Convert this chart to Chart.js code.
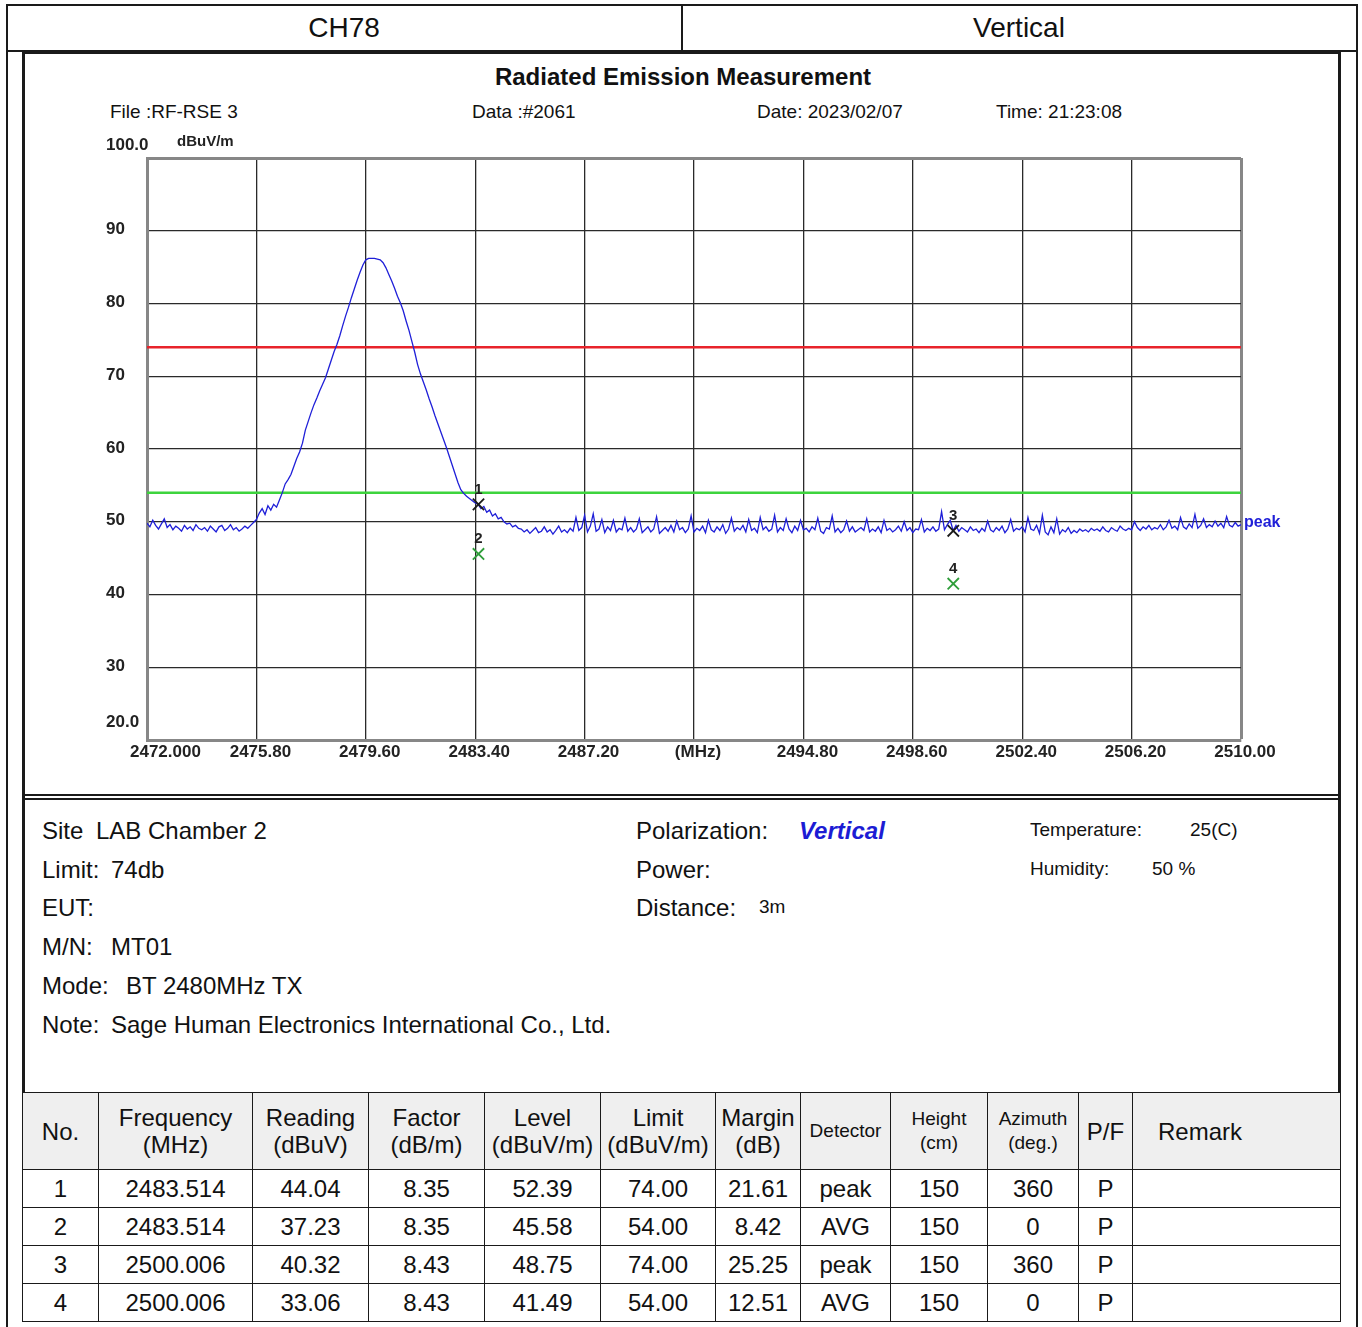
<!DOCTYPE html>
<html>
<head>
<meta charset="utf-8">
<script src="https://cdn.jsdelivr.net/npm/chart.js@4.4.0/dist/chart.umd.min.js"></script>
<style>
  body { margin: 0; background: #fff; font-family: "Liberation Sans", Arial, sans-serif; color: #111; }
  #page { position: relative; width: 1362px; height: 1327px; overflow: hidden; }
  .ln { position: absolute; background: #1a1a1a; }
  .t { position: absolute; line-height: 1; white-space: pre; transform: translateY(-50%); }
  .c { transform: translate(-50%, -50%); }
  #chart { position: absolute; left: 0; top: 0; }
  table { position: absolute; left: 22px; top: 1092px; width: 1318px; border-collapse: collapse; table-layout: fixed; }
  td, th { border: 1.5px solid #1a1a1a; text-align: center; font-weight: normal; font-size: 24px; padding: 0; }
  th { background: #efefef; height: 76px; line-height: 27px; }
  th.sm { font-size: 19px; line-height: 24px; }
  td { height: 37px; }
</style>
</head>
<body>
<div id="page">
  <!-- header row and outer frame -->
  <div class="ln" style="left:6px;top:4px;width:1352px;height:1.5px"></div>
  <div class="ln" style="left:6px;top:50px;width:1352px;height:1.5px"></div>
  <div class="ln" style="left:6px;top:4px;width:1.5px;height:1323px"></div>
  <div class="ln" style="left:1356px;top:4px;width:1.5px;height:1323px"></div>
  <div class="ln" style="left:681px;top:4px;width:1.5px;height:47px"></div>
  <div class="t c" style="left:344px;top:28px;font-size:28px">CH78</div>
  <div class="t c" style="left:1019px;top:28px;font-size:28px">Vertical</div>

  <!-- chart box -->
  <div class="ln" style="left:22px;top:52px;width:1319px;height:2px"></div>
  <div class="ln" style="left:22px;top:52px;width:2.5px;height:1040px"></div>
  <div class="ln" style="left:1338px;top:52px;width:2.5px;height:1040px"></div>
  <div class="ln" style="left:22px;top:794px;width:1319px;height:1.5px"></div>
  <div class="ln" style="left:22px;top:798px;width:1319px;height:2px"></div>

  <div class="t c" style="left:683px;top:77px;font-size:24px;font-weight:bold">Radiated Emission Measurement</div>
  <div class="t" style="left:110px;top:111px;font-size:19px">File :RF-RSE 3</div>
  <div class="t" style="left:472px;top:111px;font-size:19px">Data :#2061</div>
  <div class="t" style="left:757px;top:111px;font-size:19px">Date: 2023/02/07</div>
  <div class="t" style="left:996px;top:111px;font-size:19px">Time: 21:23:08</div>

  <canvas id="chart" width="1362" height="800"></canvas>

  <!-- info box -->
  <div class="t" style="left:42px;top:831px;font-size:24px">Site</div>
  <div class="t" style="left:96px;top:831px;font-size:24px">LAB Chamber 2</div>
  <div class="t" style="left:42px;top:870px;font-size:24px">Limit:</div>
  <div class="t" style="left:111px;top:870px;font-size:24px">74db</div>
  <div class="t" style="left:42px;top:908px;font-size:24px">EUT:</div>
  <div class="t" style="left:42px;top:947px;font-size:24px">M/N:</div>
  <div class="t" style="left:111px;top:947px;font-size:24px">MT01</div>
  <div class="t" style="left:42px;top:986px;font-size:24px">Mode:</div>
  <div class="t" style="left:126px;top:986px;font-size:24px">BT 2480MHz TX</div>
  <div class="t" style="left:42px;top:1025px;font-size:24px">Note:</div>
  <div class="t" style="left:111px;top:1025px;font-size:24px">Sage Human Electronics International Co., Ltd.</div>

  <div class="t" style="left:636px;top:831px;font-size:24px">Polarization:</div>
  <div class="t" style="left:799px;top:831px;font-size:24px;font-weight:bold;font-style:italic;color:#1c1cd4">Vertical</div>
  <div class="t" style="left:636px;top:870px;font-size:24px">Power:</div>
  <div class="t" style="left:636px;top:908px;font-size:24px">Distance:</div>
  <div class="t" style="left:759px;top:906px;font-size:19px">3m</div>
  <div class="t" style="left:1030px;top:829px;font-size:19px">Temperature:</div>
  <div class="t" style="left:1190px;top:829px;font-size:19px">25(C)</div>
  <div class="t" style="left:1030px;top:868px;font-size:19px">Humidity:</div>
  <div class="t" style="left:1152px;top:868px;font-size:19px">50 %</div>

  <table id="result">
    <colgroup>
      <col style="width:76px"><col style="width:154px"><col style="width:116px"><col style="width:116px">
      <col style="width:116px"><col style="width:115px"><col style="width:85px"><col style="width:90px">
      <col style="width:97px"><col style="width:91px"><col style="width:54px"><col style="width:208px">
    </colgroup>
    <thead>
      <tr>
        <th>No.</th><th>Frequency<br>(MHz)</th><th>Reading<br>(dBuV)</th><th>Factor<br>(dB/m)</th>
        <th>Level<br>(dBuV/m)</th><th>Limit<br>(dBuV/m)</th><th>Margin<br>(dB)</th><th class="sm">Detector</th>
        <th class="sm">Height<br>(cm)</th><th class="sm">Azimuth<br>(deg.)</th><th>P/F</th>
        <th style="text-align:left;padding-left:25px">Remark</th>
      </tr>
    </thead>
    <tbody></tbody>
  </table>
</div>

<script>
// sweep: 2472.0 .. 2510.0 MHz, one reading every 0.1 MHz (dBuV/m)
const freqStart = 2472;
const freqStep = 0.1;
const traceLevels = [
  49.8, 49.3, 50.2, 49.5, 49.0, 49.7, 50.4, 49.2, 49.6, 48.9,
  49.4, 49.1, 48.7, 49.5, 49.0, 49.3, 48.8, 49.6, 49.1, 48.9,
  49.2, 48.7, 49.4, 49.0, 48.6, 49.3, 49.5, 48.8, 49.1, 49.6,
  48.9, 49.2, 48.7, 49.0, 49.4, 49.1, 49.5, 49.9,
  50.3, 51.2, 51.8, 51.0, 52.2, 51.6, 52.4, 52.0, 53.0, 54.0,
  55.2, 55.8, 56.5, 57.6, 58.7, 59.6, 60.8, 62.6, 63.8, 65.0,
  66.1, 67.0, 68.0, 68.9, 69.8, 71.0, 72.2, 73.4, 74.4, 75.6,
  77.0, 78.3, 79.5, 80.8, 82.0, 83.2, 84.3, 85.3, 86.0, 86.2,
  86.2, 86.2, 86.1, 86.0, 85.6, 84.9, 84.0, 83.1, 82.1, 81.0,
  80.1, 79.0,
  77.6, 76.3, 74.8, 73.3, 71.6, 70.3, 69.2, 68.1, 66.9, 65.8,
  64.6, 63.5, 62.4, 61.3, 60.2, 59.0, 57.8, 56.6, 55.4, 54.4,
  53.9, 53.5, 53.2, 52.9, 52.6, 52.4, 51.8, 52.1, 51.3, 51.6,
  50.8, 51.1, 50.4, 50.6, 50.0, 49.7, 49.8, 49.3, 49.5, 49.1,
  49.0, 48.6, 48.9, 48.4, 48.8, 49.2, 48.5, 48.7, 49.3, 48.6,
  48.9, 48.3, 48.8, 49.4, 48.6, 48.9, 48.5, 49.1, 48.7, 50.6,
  48.8, 49.2, 50.9, 48.6, 49.4, 51.1, 48.7, 49.0, 50.3, 48.5,
  49.3, 48.8, 50.2, 48.6, 49.1, 48.9, 50.5, 48.7, 49.2, 48.6,
  49.0, 50.4, 48.5, 48.9, 49.3, 48.6, 49.0, 50.7, 48.4, 48.8,
  49.2, 48.7, 49.5, 48.6, 50.1, 48.9, 49.2, 48.5, 49.0, 50.8,
  48.6, 49.1, 48.8, 49.4, 48.5, 50.2, 48.9, 48.6, 49.3, 48.8,
  49.6, 48.4, 49.0, 50.5, 48.7, 49.2, 48.9, 49.5, 48.6, 50.3,
  48.8, 49.1, 48.5, 50.6, 48.9, 49.3, 48.7, 49.0, 50.9, 48.6,
  49.2, 48.8, 50.4, 49.0, 48.5, 49.4, 48.8, 50.2, 48.9, 49.1,
  48.6, 49.3, 48.9, 50.5, 48.7, 48.4, 49.2, 49.0, 50.8, 48.6,
  49.1, 48.5, 48.9, 50.1, 48.7, 49.3, 48.6, 48.9, 49.2, 48.8,
  50.4, 48.6, 49.0, 48.7, 49.3, 48.5, 50.2, 48.8, 49.1, 48.6,
  48.9, 49.4, 48.7, 50.0, 48.8, 49.2, 48.5, 49.0, 48.9, 50.3,
  48.6, 49.1, 48.8, 49.3, 48.7, 49.0, 51.4, 48.9, 49.6, 50.2,
  48.8, 49.5, 48.7, 49.2, 48.9, 48.6, 49.3, 48.8, 49.0, 48.5,
  49.1, 48.7, 50.1, 48.9, 48.6, 49.2, 48.8, 49.4, 48.5, 49.0,
  50.3, 48.7, 49.1, 48.9, 49.3, 48.6, 50.6, 49.0, 48.8, 49.5,
  48.4, 50.9, 48.6, 48.2, 49.3, 48.5, 50.4, 48.3, 48.9, 48.6,
  49.2, 48.4, 48.8, 48.5, 49.0, 48.7, 48.9, 48.6, 49.1, 48.8,
  49.0, 48.7, 49.3, 48.8, 48.6, 49.2, 48.9, 48.7, 49.4, 49.0,
  48.8, 49.1, 48.9, 50.0, 49.2, 48.8, 49.3, 49.0, 49.5, 48.9,
  49.2, 49.0, 49.6, 48.9, 49.3, 50.2, 49.1, 49.4, 48.9, 50.6,
  49.3, 49.0, 49.7, 49.2, 51.0, 49.1, 49.5, 50.4, 49.2, 49.6,
  49.3, 50.1, 49.4, 49.8, 49.2, 50.7, 49.5, 49.3, 49.9, 49.4, 49.6
];

const limitFreqs = [2472, 2510];
const peakLimit = [74, 74];
const avgLimit = [54, 54];

const markerNo = [1, 2, 3, 4];
const markerFreq = [2483.514, 2483.514, 2500.006, 2500.006];
const markerReading = [44.04, 37.23, 40.32, 33.06];
const markerFactor = [8.35, 8.35, 8.43, 8.43];
const markerLevel = [52.39, 45.58, 48.75, 41.49];
const markerLimit = [74.00, 54.00, 74.00, 54.00];
const markerMargin = [21.61, 8.42, 25.25, 12.51];
const markerDetector = ['peak', 'AVG', 'peak', 'AVG'];
const markerHeight = [150, 150, 150, 150];
const markerAzimuth = [360, 0, 360, 0];
const markerPF = ['P', 'P', 'P', 'P'];

const xTickValues = [2472, 2475.8, 2479.6, 2483.4, 2487.2, 2491, 2494.8, 2498.6, 2502.4, 2506.2, 2510];
const xTickLabels = ['2472.000', '2475.80', '2479.60', '2483.40', '2487.20', '(MHz)', '2494.80', '2498.60', '2502.40', '2506.20', '2510.00'];
const yTickValues = [20, 30, 40, 50, 60, 70, 80, 90, 100];
const yTickLabels = ['20.0', '30', '40', '50', '60', '70', '80', '90', '100.0'];

// result table
const tbody = document.querySelector('#result tbody');
markerNo.forEach((n, i) => {
    const cells = [n, markerFreq[i].toFixed(3), markerReading[i].toFixed(2), markerFactor[i].toFixed(2),
        markerLevel[i].toFixed(2), markerLimit[i].toFixed(2), markerMargin[i].toFixed(2), markerDetector[i],
        markerHeight[i], markerAzimuth[i], markerPF[i], ''];
    const tr = document.createElement('tr');
    cells.forEach(c => {
        const td = document.createElement('td');
        td.textContent = c;
        tr.appendChild(td);
    });
    tbody.appendChild(tr);
});

const labelFont = 'bold 17px "Liberation Sans", Arial, sans-serif';

const axisText = {
    id: 'axisText',
    afterDraw(chart) {
        const ctx = chart.ctx;
        const xs = chart.scales.x, ys = chart.scales.y;
        ctx.save();
        ctx.fillStyle = '#222';
        ctx.font = labelFont;
        ctx.textBaseline = 'middle';

        // y labels, left aligned; end labels sit above their lines
        ctx.textAlign = 'left';
        yTickValues.forEach((v, i) => {
            let y = ys.getPixelForValue(v) - 1;
            if (v === 100) y = ys.getPixelForValue(v) - 13;
            if (v === 20) y = ys.getPixelForValue(v) - 18;
            ctx.fillText(yTickLabels[i], 106, y);
        });
        ctx.font = 'bold 15px "Liberation Sans", Arial, sans-serif';
        ctx.fillText('dBuV/m', 177, ys.getPixelForValue(100) - 16);

        // x labels
        ctx.font = labelFont;
        xTickValues.forEach((v, i) => {
            const x = xs.getPixelForValue(v);
            if (i === 0) {
                ctx.textAlign = 'left';
                ctx.fillText(xTickLabels[i], x - 17, 752);
            } else {
                ctx.textAlign = 'center';
                ctx.fillText(xTickLabels[i], x + 4, 752);
            }
        });

        // marker numbers
        ctx.font = 'bold 15px "Liberation Sans", Arial, sans-serif';
        ctx.textAlign = 'center';
        markerNo.forEach((n, i) => {
            const x = xs.getPixelForValue(markerFreq[i]);
            const y = ys.getPixelForValue(markerLevel[i]);
            ctx.fillText(String(n), x, y - 15);
        });

        // trace name at the right end
        ctx.fillStyle = '#1f1fd8';
        ctx.font = 'bold 16px "Liberation Sans", Arial, sans-serif';
        ctx.textAlign = 'left';
        ctx.fillText('peak', chart.chartArea.right + 3, ys.getPixelForValue(traceLevels[traceLevels.length - 1]) - 2);
        ctx.restore();
    }
};

const edgeColor = '#878787';
const gridColor = '#2a2a2a';

new Chart(document.getElementById('chart'), {
    type: 'line',
    data: {
        datasets: [
            {
                label: 'markers',
                data: markerFreq.map((f, i) => ({x: f, y: markerLevel[i]})),
                showLine: false,
                pointStyle: 'crossRot',
                pointRadius: 8,
                pointBorderWidth: 1.8,
                pointBorderColor: markerDetector.map(d => d === 'peak' ? '#1a1a1a' : '#2f9e3a'),
                order: 0
            },
            {
                label: 'peak',
                data: traceLevels.map((v, i) => ({x: freqStart + i * freqStep, y: v})),
                borderColor: '#1f1fd8',
                borderWidth: 1.3,
                pointRadius: 0,
                tension: 0,
                order: 1
            },
            {
                label: 'limit peak',
                data: limitFreqs.map((f, i) => ({x: f, y: peakLimit[i]})),
                borderColor: '#e8232b',
                borderWidth: 2.5,
                pointRadius: 0,
                order: 2
            },
            {
                label: 'limit avg',
                data: limitFreqs.map((f, i) => ({x: f, y: avgLimit[i]})),
                borderColor: '#3dd43d',
                borderWidth: 2.5,
                pointRadius: 0,
                order: 3
            }
        ]
    },
    options: {
        responsive: false,
        animation: false,
        layout: {padding: {left: 147, top: 158, right: 121, bottom: 60}},
        plugins: {legend: {display: false}, tooltip: {enabled: false}},
        scales: {
            x: {
                type: 'linear',
                min: 2472,
                max: 2510,
                afterBuildTicks: s => { s.ticks = xTickValues.map(v => ({value: v})); },
                ticks: {display: false},
                grid: {
                    drawTicks: false,
                    color: c => c.tick && c.tick.value === 2510 ? edgeColor : gridColor,
                    lineWidth: c => c.tick && c.tick.value === 2510 ? 3 : 1.3
                },
                border: {display: true, color: edgeColor, width: 3}
            },
            y: {
                min: 20,
                max: 100,
                afterBuildTicks: s => { s.ticks = yTickValues.map(v => ({value: v})); },
                ticks: {display: false},
                grid: {
                    drawTicks: false,
                    color: c => c.tick && c.tick.value === 100 ? edgeColor : gridColor,
                    lineWidth: c => c.tick && c.tick.value === 100 ? 3 : 1.3
                },
                border: {display: true, color: edgeColor, width: 3}
            }
        }
    },
    plugins: [axisText]
});
</script>
</body>
</html>
